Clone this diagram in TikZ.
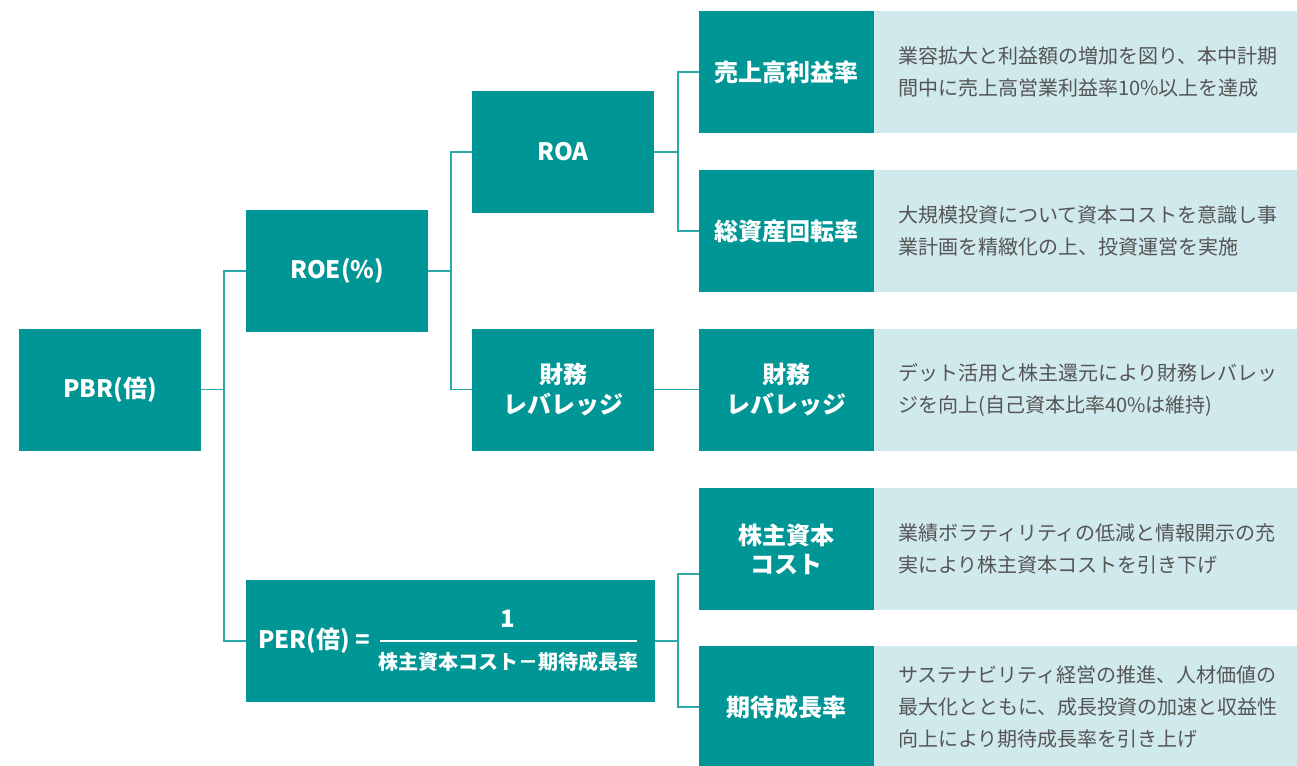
\documentclass[tikz,border=0pt]{standalone}
\usepackage{fontspec}
\setmainfont{Noto Sans CJK JP}
\definecolor{tealbox}{RGB}{0,150,150}
\definecolor{lightbox}{RGB}{208,233,236}
\definecolor{connline}{RGB}{45,168,168}
\definecolor{txtgray}{RGB}{85,85,85}
\tikzset{
  tbox/.style={fill=tealbox, text=white, font=\bfseries\fontsize{18}{22}\selectfont,
    align=center, inner sep=0pt, minimum width=136.5pt, minimum height=91.5pt},
  rbox/.style={tbox, minimum width=131.25pt},
  lbox/.style={fill=lightbox, text=txtgray, font=\fontsize{15}{24}\selectfont,
    align=left, inner xsep=18pt, inner ysep=0pt, anchor=west,
    text width=281.25pt, minimum height=91.5pt},
  cline/.style={draw=connline, line width=1.1pt},
  pertxt/.style={text=white, font=\bfseries\fontsize{18}{22}\selectfont, inner sep=0pt},
  perden/.style={text=white, font=\bfseries\fontsize{15}{18}\selectfont, inner sep=0pt}
}
\begin{document}
\begin{tikzpicture}[x=0.75pt,y=-0.75pt]
\useasboundingbox (0,0) rectangle (1297,765);
% left tree
\node[tbox] (pbr) at (110,389.5) {PBR(倍)};
\node[tbox] (roe) at (337,271) {ROE(\%)};
\node[tbox] (roa) at (563,152) {ROA};
\node[tbox] (finl) at (563,389.5) {財務\\レバレッジ};
\node[tbox, minimum width=306.75pt] (per) at (450.5,641) {};
\node[pertxt] (perlbl) at (314,641) {PER(倍) =};
\node[pertxt] (pernum) at (508,619) {1};
\node[perden] (perdenom) at (508,662) {株主資本コスト－期待成長率};
\draw[white, line width=1.2pt] (380,641) -- (637,641);
% right column
\node[rbox] (r1) at (786.5,72) {売上高利益率};
\node[lbox] (d1) at (874,72) {業容拡大と利益額の増加を図り、本中計期\\間中に売上高営業利益率10\%以上を達成};
\node[rbox] (r2) at (786.5,231) {総資産回転率};
\node[lbox] (d2) at (874,231) {大規模投資について資本コストを意識し事\\業計画を精緻化の上、投資運営を実施};
\node[rbox] (r3) at (786.5,389.5) {財務\\レバレッジ};
\node[lbox] (d3) at (874,389.5) {デット活用と株主還元により財務レバレッ\\ジを向上(自己資本比率40\%は維持)};
\node[rbox] (r4) at (786.5,549) {株主資本\\コスト};
\node[lbox] (d4) at (874,549) {業績ボラティリティの低減と情報開示の充\\実により株主資本コストを引き下げ};
\node[rbox] (r5) at (786.5,707) {期待成長率};
\node[lbox] (d5) at (874,707) {サステナビリティ経営の推進、人材価値の\\最大化とともに、成長投資の加速と収益性\\向上により期待成長率を引き上げ};
% connectors
\coordinate (j1) at (224,389.5);
\draw[cline] (pbr.east) -- (j1);
\draw[cline] (j1) |- (roe.west);
\draw[cline] (j1) |- (per.west);
\coordinate (j2) at (451,271);
\draw[cline] (roe.east) -- (j2);
\draw[cline] (j2) |- (roa.west);
\draw[cline] (j2) |- (finl.west);
\coordinate (j3) at (678,152);
\draw[cline] (roa.east) -- (j3);
\draw[cline] (j3) |- (r1.west);
\draw[cline] (j3) |- (r2.west);
\draw[cline] (finl.east) -- (r3.west);
\coordinate (j5) at (678,641);
\draw[cline] (per.east) -- (j5);
\draw[cline] (j5) |- ([yshift=-18.75pt]r4.west);
\draw[cline] (j5) |- (r5.west);
\end{tikzpicture}
\end{document}
